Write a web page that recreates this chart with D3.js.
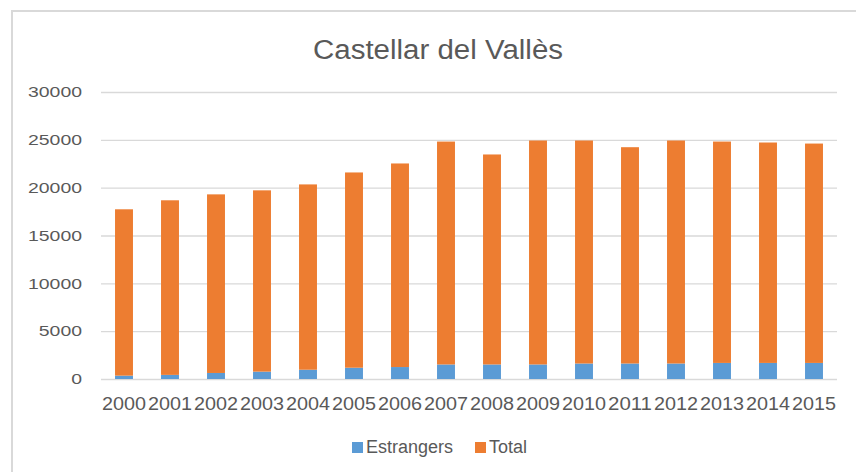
<!DOCTYPE html>
<html>
<head>
<meta charset="utf-8">
<script src="https://cdn.jsdelivr.net/npm/d3@7"></script>
<style>
  body { margin: 0; background: #fff; }
  text { font-family: "Liberation Sans", Arial, sans-serif; fill: #595959; }
</style>
</head>
<body>
<div class="chart"></div>
<script>
const years = ["2000","2001","2002","2003","2004","2005","2006","2007","2008","2009","2010","2011","2012","2013","2014","2015"]
const estrangers = [350, 430, 630, 770, 970, 1180, 1250, 1520, 1520, 1520, 1620, 1620, 1620, 1680, 1680, 1680]
const total = [17390, 18250, 18670, 18950, 19370, 20410, 21280, 23300, 21950, 23410, 23310, 22610, 23310, 23140, 23040, 22930]
const yTicks = [0, 5000, 10000, 15000, 20000, 25000, 30000]
const seriesNames = ["Estrangers", "Total"]
const colors = ["#5b9bd5", "#ed7d31"]

const W = 856, H = 472
const margin = ({top: 92, right: 19, bottom: 93, left: 101})

const svg = d3.select(".chart").append("svg")
  .attr("width", W)
  .attr("height", H)

// chart border (only top and left visible)
svg.append("line").attr("x1", 12).attr("x2", W).attr("y1", 11).attr("y2", 11)
  .attr("stroke", "#d9d9d9").attr("stroke-width", 2)
svg.append("line").attr("x1", 12).attr("x2", 12).attr("y1", 10).attr("y2", H)
  .attr("stroke", "#d9d9d9").attr("stroke-width", 2)

svg.append("text")
  .attr("x", 438)
  .attr("y", 59)
  .attr("text-anchor", "middle")
  .attr("font-size", 27)
  .attr("textLength", 250)
  .attr("lengthAdjust", "spacingAndGlyphs")
  .text("Castellar del Vallès")

const x = d3.scaleBand()
  .domain(years)
  .range([margin.left, W - margin.right])
  .paddingInner(0.61)
  .paddingOuter(0.305)

const y = d3.scaleLinear()
  .domain([0, 30000])
  .range([H - margin.bottom, margin.top])

// gridlines + y labels
const yAxis = d3.axisLeft(y).tickValues(yTicks).tickFormat(d3.format("d")).tickSize(0).tickPadding(19)
const yg = svg.append("g")
  .attr("transform", `translate(${margin.left},0)`)
  .call(yAxis)
yg.select(".domain").remove()
yg.selectAll(".tick line").clone()
  .attr("x2", W - margin.right - margin.left)
  .attr("stroke", "#d9d9d9")
  .attr("stroke-width", 1.3)
yg.selectAll(".tick text")
  .attr("font-size", 15)
  .attr("font-family", "Liberation Sans, Arial, sans-serif")
  .attr("fill", "#595959")
  .attr("textLength", d => String(d).length * 10.8)
  .attr("lengthAdjust", "spacingAndGlyphs")

const rows = years.map((yr, i) => ({year: yr, Estrangers: estrangers[i], Total: total[i]}))
const stacked = d3.stack().keys(seriesNames)(rows)

svg.append("g")
  .selectAll("g")
  .data(stacked)
  .join("g")
  .attr("fill", (d, i) => colors[i])
  .selectAll("rect")
  .data(d => d)
  .join("rect")
  .attr("x", d => x(d.data.year))
  .attr("width", x.bandwidth())
  .attr("y", d => y(d[1]))
  .attr("height", d => y(d[0]) - y(d[1]))

// x labels
const xAxis = d3.axisBottom(x).tickSize(0).tickPadding(18)
const xg = svg.append("g")
  .attr("transform", `translate(0,${H - margin.bottom})`)
  .call(xAxis)
xg.select(".domain").remove()
xg.selectAll(".tick text")
  .attr("font-size", 18)
  .attr("font-family", "Liberation Sans, Arial, sans-serif")
  .attr("fill", "#595959")
  .attr("textLength", 44)
  .attr("lengthAdjust", "spacingAndGlyphs")

// legend
const legendX = [352, 475]
const leg = svg.append("g")
  .selectAll("g")
  .data(seriesNames)
  .join("g")
  .attr("transform", (d, i) => `translate(${legendX[i]},442)`)
leg.append("rect")
  .attr("width", 11)
  .attr("height", 11)
  .attr("fill", (d, i) => colors[i])
leg.append("text")
  .attr("x", 14)
  .attr("y", 11)
  .attr("font-size", 18)
  .text(d => d)
</script>
</body>
</html>
